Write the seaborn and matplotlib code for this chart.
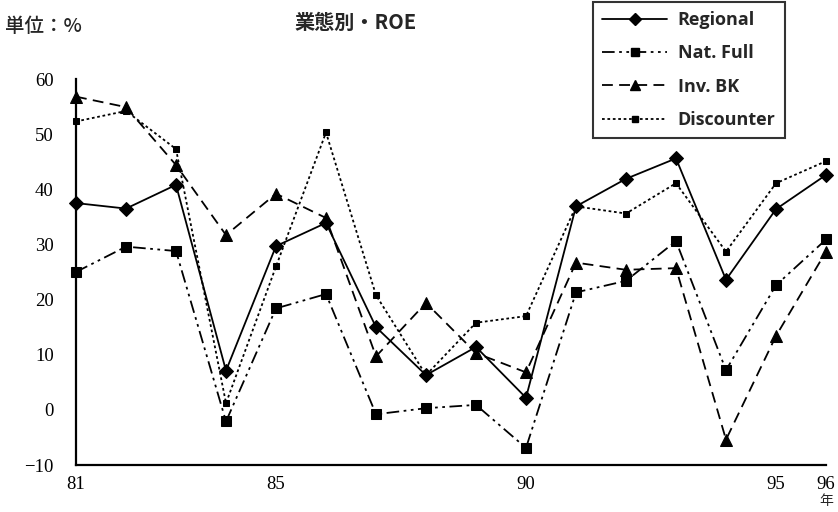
import matplotlib
matplotlib.use("Agg")
import matplotlib.pyplot as plt
import seaborn as sns
import pandas as pd
from matplotlib.lines import Line2D

years = list(range(81, 97))
regional = [37.5, 36.5, 40.8, 7.1, 29.7, 33.9, 15.0, 6.3, 11.4, 2.2, 36.9, 41.9, 45.6, 23.6, 36.4, 42.6]
nat_full = [25.0, 29.6, 28.8, -2.1, 18.4, 21.0, -0.8, 0.3, 0.9, -6.9, 21.3, 23.4, 30.6, 7.2, 22.6, 30.9]
inv_bk = [56.8, 54.9, 44.4, 31.7, 39.2, 34.8, 9.7, 19.4, 10.3, 6.8, 26.7, 25.4, 25.7, -5.4, 13.4, 28.7]
discounter = [52.3, 54.2, 47.3, 1.2, 26.0, 50.3, 20.8, 6.3, 15.8, 17.0, 36.9, 35.6, 41.1, 28.7, 41.1, 45.1]
series_names = ["Regional", "Nat. Full", "Inv. BK", "Discounter"]
y_ticks = [-10, 0, 10, 20, 30, 40, 50, 60]
x_label_map = {81: "81", 85: "85", 90: "90", 95: "95", 96: "96"}
year_unit = "年"
title = "業態別・ROE"
unit = "単位：%"

sns.set_theme(style="white")
plt.rcParams['font.family'] = ['Liberation Serif', 'Noto Sans CJK JP', 'DejaVu Sans']

fig = plt.figure(figsize=(8.38, 5.12), dpi=100)
ax = fig.add_axes([76/838, 1-465/512, (826-76)/838, (465-79)/512])

styles = {
    "Regional": dict(linestyle="-", marker="D", markersize=7.5),
    "Nat. Full": dict(linestyle=(0, (7, 2.5, 1.5, 2.5, 1.5, 2.5)), marker="s", markersize=7.5),
    "Inv. BK": dict(linestyle=(0, (6, 3.5)), marker="^", markersize=8.5),
    "Discounter": dict(linestyle=(0, (1.5, 1.5)), marker="s", markersize=5),
}
data = {"Regional": regional, "Nat. Full": nat_full, "Inv. BK": inv_bk, "Discounter": discounter}

handles = []
for name in series_names:
    df = pd.DataFrame({"year": years, "value": data[name]})
    st = styles[name]
    sns.lineplot(data=df, x="year", y="value", ax=ax, color="black", linewidth=1.3,
                 linestyle=st["linestyle"], marker=st["marker"], markersize=st["markersize"],
                 markeredgecolor="black", markerfacecolor="black", clip_on=False, legend=False)
    handles.append(Line2D([0], [0], color="black", linewidth=1.3, linestyle=st["linestyle"],
                          marker=st["marker"], markersize=st["markersize"] * 0.85,
                          markerfacecolor="black", markeredgecolor="black", label=name))

ax.set_xlim(81, 96)
ax.set_ylim(-10, 60)
ax.set_xticks(years)
ax.set_xticklabels([x_label_map.get(y, "") for y in years])
ax.set_yticks(y_ticks)
ax.set_yticklabels(["−10"] + [str(v) for v in y_ticks[1:]])
ax.set_xlabel("")
ax.set_ylabel("")
for s in ["top", "right"]:
    ax.spines[s].set_visible(False)
for s in ["left", "bottom"]:
    ax.spines[s].set_color("black")
    ax.spines[s].set_linewidth(1.6)
ax.tick_params(axis="both", direction="in", length=6, width=1.2, color="black",
               labelsize=13.5, labelcolor="black")
ax.tick_params(axis="y", pad=16)
ax.tick_params(axis="x", pad=8)
for lab in ax.get_xticklabels() + ax.get_yticklabels():
    lab.set_family(['Liberation Serif', 'Noto Sans CJK JP'])
ax.set_facecolor("white")
fig.patch.set_facecolor("white")

fig.text(826/838, 1-501/512, year_unit, ha="center", va="center", fontsize=10,
         family=['Noto Sans CJK JP', 'DejaVu Sans'])
fig.text(356/838, 1-22/512, title, ha="center", va="center", fontsize=14.5,
         fontweight="bold", family=['Noto Sans CJK JP', 'DejaVu Sans'])
fig.text(5/838, 1-27/512, unit, ha="left", va="center", fontsize=14,
         fontweight="medium", family=['Noto Sans CJK JP', 'DejaVu Sans'])

leg = fig.legend(handles=handles, loc="upper left", bbox_to_anchor=(593/838, 1-2/512),
                 borderaxespad=0, frameon=True, fancybox=False, edgecolor="black",
                 handlelength=3.6, labelspacing=0.85, borderpad=0.5, handletextpad=0.6,
                 prop={"family": "Open Sans", "weight": "bold", "size": 13})
leg.get_frame().set_linewidth(1.5)

fig.savefig("out.png", dpi=100, facecolor="white")
